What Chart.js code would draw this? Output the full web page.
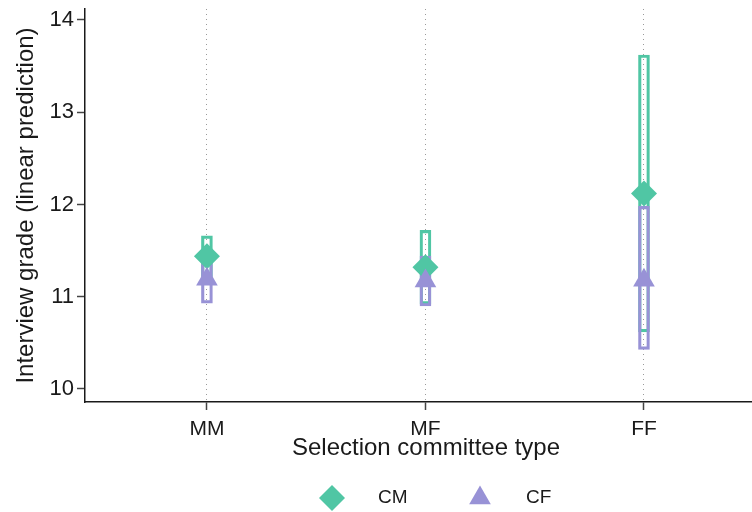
<!DOCTYPE html>
<html>
<head>
<meta charset="utf-8">
<script src="https://cdn.jsdelivr.net/npm/chart.js@4.4.0/dist/chart.umd.min.js"></script>
<style>
  html, body { margin: 0; padding: 0; background: #fff; overflow: hidden; }
  #wrap { width: 767px; height: 512px; }
</style>
</head>
<body>
<div id="wrap"><canvas id="gradeChart"></canvas></div>
<script>
'use strict';

// committee types and tick values
const categories = ['MM', 'MF', 'FF'];
const yTicks = [10, 11, 12, 13, 14];

// CM: point estimate and interval ends
const cmMean = [11.44, 11.32, 12.12];
const cmLow = [11.22, 10.92, 10.62];
const cmHigh = [11.66, 11.72, 13.62];

// CF: point estimate and interval ends
const cfMean = [11.19, 11.17, 11.18];
const cfLow = [10.93, 10.90, 10.43];
const cfHigh = [11.45, 11.44, 11.98];

const teal = '#50c6a4';
const purple = '#9892d6';
const ink = '#1a1a1a';

Chart.defaults.font.family = "'Liberation Sans', Arial, sans-serif";
Chart.defaults.color = ink;

function intervalBars(label, low, high, color, order) {
    return {
        type: 'bar',
        label: label,
        order: order,
        data: categories.map((c, i) => ({x: i, y: [low[i], high[i]]})),
        backgroundColor: 'rgba(0,0,0,0)',
        borderColor: color,
        borderWidth: 2.5,
        borderSkipped: false,
        barThickness: 11,
        grouped: false,
        inLegend: false
    };
}

function estimates(label, mean, color, style, radius, order) {
    return {
        type: 'scatter',
        label: label,
        order: order,
        data: categories.map((c, i) => ({x: i, y: mean[i]})),
        pointStyle: style,
        pointRadius: radius,
        pointHoverRadius: radius,
        backgroundColor: color,
        borderColor: color,
        borderWidth: 0,
        inLegend: true
    };
}

// legend row under the axis title, centred on the plot region
const bottomLegend = {
    id: 'bottomLegend',
    afterDraw(chart) {
        const ctx = chart.ctx;
        const area = chart.chartArea;
        const mid = (area.left + area.right) / 2;
        const y = chart.height - 14;
        const items = chart.data.datasets.filter(d => d.inLegend);
        const step = 148;
        let x = mid - 94;
        ctx.save();
        ctx.font = "19px 'Liberation Sans', Arial, sans-serif";
        ctx.textBaseline = 'middle';
        ctx.textAlign = 'left';
        items.forEach(d => {
            ctx.fillStyle = d.backgroundColor;
            Chart.helpers.drawPoint(ctx, {pointStyle: d.pointStyle, radius: d.pointRadius, rotation: 0, borderWidth: 0}, x, y);
            ctx.fillStyle = ink;
            ctx.fillText(d.label, x + 46, y);
            x += step;
        });
        ctx.restore();
    }
};

new Chart('gradeChart', {
    type: 'scatter',
    data: {
        datasets: [
            intervalBars('CM interval', cmLow, cmHigh, teal, 4),
            intervalBars('CF interval', cfLow, cfHigh, purple, 3),
            estimates('CM', cmMean, teal, 'rectRot', 13, 2),
            estimates('CF', cfMean, purple, 'triangle', 12.5, 1)
        ]
    },
    options: {
        responsive: true,
        maintainAspectRatio: false,
        animation: false,
        layout: {
            autoPadding: false,
            padding: {top: 9, right: 0, bottom: 50, left: 0}
        },
        plugins: {
            legend: {display: false},
            tooltip: {enabled: false}
        },
        scales: {
            x: {
                type: 'linear',
                min: -0.558,
                max: 2.563,
                offset: false,
                border: {color: ink, width: 1.5, dash: [1, 4]},
                grid: {
                    offset: false,
                    color: '#9a9a9a',
                    lineWidth: 1,
                    tickLength: 8,
                    tickColor: '#444',
                    tickWidth: 1.5,
                    tickBorderDash: []
                },
                ticks: {
                    font: {size: 21},
                    padding: 7,
                    callback: (v) => categories[v] !== undefined ? categories[v] : ''
                },
                title: {
                    display: true,
                    text: 'Selection committee type',
                    font: {size: 24, lineHeight: 1.1},
                    padding: {top: 0, bottom: 0}
                },
                afterBuildTicks: (axis) => {
                    axis.ticks = categories.map((c, i) => ({value: i}));
                },
                afterFit: (axis) => {
                    axis.height = 60;
                    axis.paddingLeft = 0;
                    axis.paddingRight = 0;
                }
            },
            y: {
                min: 9.859,
                max: 14.119,
                border: {color: ink, width: 1.5},
                grid: {
                    drawOnChartArea: false,
                    tickLength: 8,
                    tickColor: '#444',
                    tickWidth: 1.5
                },
                ticks: {
                    font: {size: 22},
                    padding: 3
                },
                title: {
                    display: true,
                    text: 'Interview grade (linear prediction)',
                    font: {size: 24},
                    padding: {top: 12, bottom: 0}
                },
                afterBuildTicks: (axis) => {
                    axis.ticks = yTicks.map(v => ({value: v}));
                },
                afterFit: (axis) => {
                    axis.width = 85;
                    axis.paddingTop = 0;
                    axis.paddingBottom = 0;
                }
            }
        }
    },
    plugins: [bottomLegend]
});
</script>
</body>
</html>
